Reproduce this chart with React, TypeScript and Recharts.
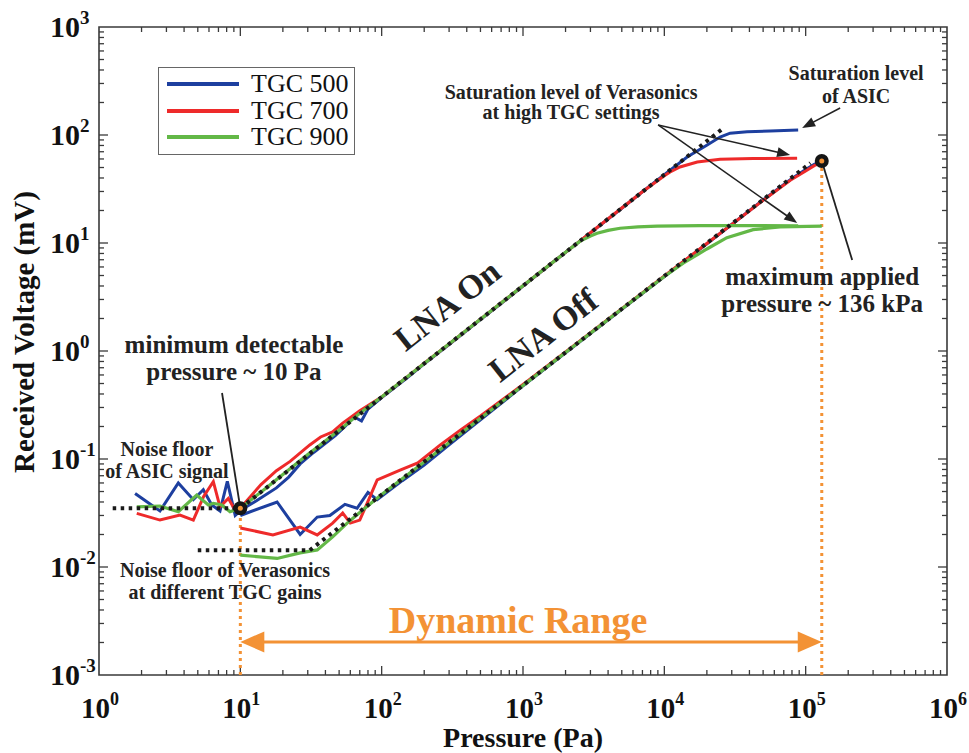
import React from 'react';
import { LineChart, Line, XAxis, YAxis, ReferenceLine, ReferenceDot, ReferenceArea, Legend } from 'recharts';

const FONT = "'Liberation Serif', 'Times New Roman', Times, serif";
const BLUE = '#1D3F9F';
const RED = '#EE2A2A';
const GREEN = '#63B847';
const ORANGE = '#F39235';
const INK = '#222222';

// axis ticks
const xTicks = [1, 10, 100, 1000, 10000, 100000, 1000000];
const yTicks = [0.001, 0.01, 0.1, 1, 10, 100, 1000];

// ---- data (pressure Pa, voltage mV) ----
// LNA On
const tgc500On: [number, number][] = [
  [1.8, 0.048], [2.7, 0.033], [3.64, 0.06], [4.65, 0.042], [5.47, 0.052], [6.28, 0.0375], [7.18, 0.033],
  [8.09, 0.062], [9.2, 0.03], [10.2, 0.034], [13, 0.041], [18, 0.054], [22, 0.068], [26.5, 0.09], [33, 0.115],
  [40, 0.14], [47, 0.165], [55, 0.2], [64, 0.245], [72, 0.225], [80, 0.29], [100, 0.37], [150, 0.56], [200, 0.76],
  [300, 1.15], [500, 1.95], [700, 2.75], [1000, 4.0], [2000, 8.2], [3000, 12.4], [5000, 21], [7000, 29.8],
  [10000, 43], [14500, 62.6], [20100, 80.8], [24800, 95.8], [29200, 104], [38500, 107], [56100, 109], [88500, 111],
];
const tgc700On: [number, number][] = [
  [1.85, 0.0314], [2.7, 0.0272], [3.74, 0.0303], [4.65, 0.0272], [5.5, 0.045], [6.44, 0.0617], [7.18, 0.0361],
  [8.22, 0.0432], [9.17, 0.0337], [10, 0.035], [14, 0.058], [18, 0.078], [22.5, 0.095], [31, 0.135], [37, 0.16],
  [45, 0.178], [53, 0.215], [70, 0.28], [90, 0.345], [100, 0.375], [150, 0.57], [200, 0.77], [300, 1.16],
  [500, 1.97], [700, 2.78], [1000, 4.02], [2000, 8.2], [3000, 12.45], [5000, 21.1], [7000, 29.8], [10000, 42],
  [11000, 45.4], [12900, 50.6], [17100, 56.2], [24800, 59.5], [42500, 60.5], [87000, 61],
];
const tgc900On: [number, number][] = [
  [1.85, 0.0361], [2.7, 0.0367], [3.64, 0.0325], [4.91, 0.0464], [5.94, 0.0375], [6.44, 0.0389], [7.39, 0.0375],
  [8.45, 0.0325], [10, 0.035], [15, 0.053], [20, 0.072], [30, 0.11], [50, 0.185], [70, 0.265], [100, 0.375],
  [200, 0.766], [500, 1.97], [1000, 4.02], [2000, 8.2], [2535, 10.4], [3000, 11.6], [3345, 12.3], [4000, 13.1],
  [4864, 13.7], [6500, 14.1], [8890, 14.3], [17900, 14.5], [40000, 14.5], [88500, 14.4],
];
// LNA Off
const tgc500Off: [number, number][] = [
  [10, 0.03], [18.2, 0.04], [26.5, 0.02], [35, 0.029], [43, 0.03], [55, 0.038], [67, 0.035], [80, 0.049],
  [93, 0.042], [140, 0.063], [200, 0.088], [300, 0.135], [500, 0.23], [1000, 0.475], [2000, 0.96], [5000, 2.43],
  [10000, 4.9], [20000, 9.85], [50000, 25], [80000, 39.5], [100000, 48], [115000, 53.5], [130000, 57.5],
];
const tgc700Off: [number, number][] = [
  [10, 0.023], [17, 0.0198], [26.5, 0.0234], [35, 0.0198], [45, 0.0255], [53, 0.0316], [60, 0.0255], [70, 0.0272],
  [79, 0.039], [93, 0.064], [135, 0.079], [180, 0.092], [260, 0.135], [360, 0.185], [500, 0.25], [1000, 0.49],
  [2000, 0.98], [5000, 2.46], [10000, 4.95], [20000, 9.9], [50000, 24.8], [80000, 39], [100000, 46.5],
  [115000, 52], [130000, 56],
];
const tgc900Off: [number, number][] = [
  [10, 0.0129], [18.2, 0.012], [26.5, 0.0135], [35, 0.0144], [45, 0.019], [57, 0.0255], [70, 0.032], [100, 0.047],
  [200, 0.094], [500, 0.238], [1000, 0.48], [2000, 0.97], [5000, 2.45], [10000, 4.9], [13600, 6.5], [20000, 8.8],
  [27700, 11.2], [42500, 13.3], [66000, 14.1], [130000, 14.3],
];
// black dotted reference lines
const asicFit: [number, number][] = [[1.25, 0.035], [10, 0.035], [26000, 115]];
const veraFit: [number, number][] = [[5, 0.0143], [31, 0.0143], [108000, 55]];

// key points
const minPoint = { x: 10, y: 0.035 };
const maxPoint = { x: 130000, y: 57.5 };

const legendItems = [
  { name: 'TGC 500', color: BLUE },
  { name: 'TGC 700', color: RED },
  { name: 'TGC 900', color: GREEN },
];

const P = (e: number) => Math.pow(10, e);

// annotation anchors (log10 of data coords)
const notes = [
  { t: 'Saturation level of Verasonics', lx: 3.34, ly: 2.333, size: 20 },
  { t: 'at high TGC settings', lx: 3.34, ly: 2.148, size: 20 },
  { t: 'Saturation level', lx: 5.357, ly: 2.509, size: 20 },
  { t: 'of ASIC', lx: 5.357, ly: 2.296, size: 20 },
  { t: 'minimum detectable', lx: 0.955, ly: -0.019, size: 25 },
  { t: 'pressure ~ 10 Pa', lx: 0.955, ly: -0.269, size: 25 },
  { t: 'maximum applied', lx: 5.117, ly: 0.611, size: 25 },
  { t: 'pressure ~ 136 kPa', lx: 5.117, ly: 0.361, size: 25 },
  { t: 'Noise floor', lx: 0.481, ly: -0.972, size: 20 },
  { t: 'of ASIC signal', lx: 0.481, ly: -1.176, size: 20 },
  { t: 'Noise floor of Verasonics', lx: 0.892, ly: -2.093, size: 20 },
  { t: 'at different TGC gains', lx: 0.892, ly: -2.296, size: 20 },
  { t: 'Dynamic Range', lx: 2.965, ly: -2.611, size: 38, color: ORANGE },
  { t: 'LNA On', lx: 2.463, ly: 0.426, size: 34, angle: -38 },
  { t: 'LNA Off', lx: 3.142, ly: 0.148, size: 34, angle: -38 },
];

const pts = (a: [number, number][]) => a.map(([x, y]) => ({ x, y }));

const xMinor: number[] = [];
for (let e = 0; e < 6; e++) for (let m = 2; m <= 9; m++) xMinor.push(m * Math.pow(10, e));
const yMinor: number[] = [];
for (let e = -3; e < 3; e++) for (let m = 2; m <= 9; m++) yMinor.push(m * Math.pow(10, e));
const xMajorInner = [10, 100, 1000, 10000, 100000];
const yMajorInner = [0.01, 0.1, 1, 10, 100];

const TICK = '#3a3a3a';

const xTickShape = (len: number) => (p: any) => {
  const top = Math.min(p.y1, p.y2);
  const bot = Math.max(p.y1, p.y2);
  return (
    <g>
      <line x1={p.x1} x2={p.x1} y1={bot} y2={bot - len} stroke={TICK} strokeWidth={1.3} />
      <line x1={p.x1} x2={p.x1} y1={top} y2={top + len} stroke={TICK} strokeWidth={1.3} />
    </g>
  );
};
const yTickShape = (len: number) => (p: any) => {
  const l = Math.min(p.x1, p.x2);
  const r = Math.max(p.x1, p.x2);
  return (
    <g>
      <line x1={l} x2={l + len} y1={p.y1} y2={p.y1} stroke={TICK} strokeWidth={1.3} />
      <line x1={r} x2={r - len} y1={p.y1} y2={p.y1} stroke={TICK} strokeWidth={1.3} />
    </g>
  );
};

const arrowShape = (color: string, w: number, len: number, half: number, heads: 'end' | 'both' | 'none') => (p: any) => {
  const { x1, y1, x2, y2 } = p;
  const dx = x2 - x1;
  const dy = y2 - y1;
  const L = Math.hypot(dx, dy) || 1;
  const ux = dx / L;
  const uy = dy / L;
  const head = (tx: number, ty: number, sx: number, sy: number) => {
    const bx = tx - sx * len;
    const by = ty - sy * len;
    return `${tx},${ty} ${bx - sy * half},${by + sx * half} ${bx + sy * half},${by - sx * half}`;
  };
  const sx0 = heads === 'both' ? x1 + ux * len * 0.8 : x1;
  const sy0 = heads === 'both' ? y1 + uy * len * 0.8 : y1;
  const ex0 = heads !== 'none' ? x2 - ux * len * 0.8 : x2;
  const ey0 = heads !== 'none' ? y2 - uy * len * 0.8 : y2;
  return (
    <g>
      <line x1={sx0} y1={sy0} x2={ex0} y2={ey0} stroke={color} strokeWidth={w} />
      {heads !== 'none' && <polygon points={head(x2, y2, ux, uy)} fill={color} />}
      {heads === 'both' && <polygon points={head(x1, y1, -ux, -uy)} fill={color} />}
    </g>
  );
};

const textShape = (n: any) => (p: any) => (
  <text
    x={p.cx}
    y={p.cy}
    textAnchor="middle"
    dominantBaseline={n.angle ? 'central' : undefined}
    transform={n.angle ? `rotate(${n.angle}, ${p.cx}, ${p.cy})` : undefined}
    fontFamily={FONT}
    fontWeight="bold"
    fontSize={n.size}
    fill={n.color || INK}
  >
    {n.t}
  </text>
);

const bigDot = (p: any) => (
  <g>
    <circle cx={p.cx} cy={p.cy} r={7} fill="#151515" />
    <circle cx={p.cx} cy={p.cy} r={2.5} fill={ORANGE} />
  </g>
);

const XTick = (props: any) => {
  const { x, y, payload } = props;
  const e = Math.round(Math.log10(payload.value));
  return (
    <text x={x - 18} y={y + 43} fontFamily={FONT} fontWeight="bold" fontSize={29} fill="#111">
      10<tspan dy={-13} fontSize={18}>{e}</tspan>
    </text>
  );
};
const YTick = (props: any) => {
  const { x, y, payload } = props;
  const e = Math.round(Math.log10(payload.value));
  return (
    <text x={x - 49} y={y + 10} fontFamily={FONT} fontWeight="bold" fontSize={30} fill="#111">
      10<tspan dy={-13} fontSize={19}>{e}</tspan>
    </text>
  );
};

const YTitle = (props: any) => {
  const vb = props.viewBox || { x: 0, y: 27, width: 99, height: 648 };
  const cx = vb.x + 24;
  const cy = vb.y + vb.height / 2 - 19;
  return (
    <text
      x={cx}
      y={cy}
      transform={`rotate(-90, ${cx}, ${cy})`}
      textAnchor="middle"
      dominantBaseline="central"
      fontFamily={FONT}
      fontWeight="bold"
      fontSize={29}
      fill="#111"
    >
      Received Voltage (mV)
    </text>
  );
};

const LegendBox = () => (
  <div
    style={{
      border: '1.5px solid #666',
      background: '#fff',
      padding: '3px 0',
      width: 197,
      boxSizing: 'border-box',
      fontFamily: FONT,
    }}
  >
    {legendItems.map((it) => (
      <div key={it.name} style={{ display: 'flex', alignItems: 'center', height: 26.5 }}>
        <svg width={92} height={10} style={{ display: 'block' }}>
          <line x1={8} x2={80} y1={5} y2={5} stroke={it.color} strokeWidth={4} />
        </svg>
        <span style={{ fontSize: 26, color: '#111', lineHeight: '26px' }}>{it.name}</span>
      </div>
    ))}
  </div>
);

const lineProps = { type: 'linear' as const, dataKey: 'y', dot: false, activeDot: false, isAnimationActive: false, legendType: 'none' as const };

export default function App() {
  return (
    <div style={{ position: 'absolute', left: 0, top: 0, width: 969, height: 753, background: '#fff' }}>
      <LineChart width={969} height={753} margin={{ top: 27, right: 22, bottom: 0, left: 0 }}>
        <XAxis
          dataKey="x"
          type="number"
          scale="log"
          domain={[1, 1000000]}
          allowDataOverflow
          ticks={xTicks}
          interval={0}
          height={78}
          tickSize={0}
          tickMargin={0}
          axisLine={false}
          tickLine={false}
          tick={XTick}
          label={{
            value: 'Pressure (Pa)',
            position: 'insideBottom',
            offset: 6,
            fill: '#111',
            fontSize: 28,
            fontWeight: 'bold',
            fontFamily: FONT,
          }}
        />
        <YAxis
          type="number"
          scale="log"
          domain={[0.001, 1000]}
          allowDataOverflow
          ticks={yTicks}
          interval={0}
          width={99}
          tickSize={0}
          tickMargin={0}
          axisLine={false}
          tickLine={false}
          tick={YTick}
          label={{ content: YTitle }}
        />
        <Legend
          content={LegendBox}
          layout="vertical"
          align="center"
          verticalAlign="middle"
          wrapperStyle={{ left: 158, top: 67, width: 197 }}
        />

        {xMinor.map((v) => (
          <ReferenceLine key={'xm' + v} x={v} shape={xTickShape(5)} ifOverflow="visible" />
        ))}
        {xMajorInner.map((v) => (
          <ReferenceLine key={'xM' + v} x={v} shape={xTickShape(9)} ifOverflow="visible" />
        ))}
        {yMinor.map((v) => (
          <ReferenceLine key={'ym' + v} y={v} shape={yTickShape(5)} ifOverflow="visible" />
        ))}
        {yMajorInner.map((v) => (
          <ReferenceLine key={'yM' + v} y={v} shape={yTickShape(9)} ifOverflow="visible" />
        ))}
        <ReferenceArea x1={1} x2={1000000} y1={0.001} y2={1000} fill="none" stroke="#3a3a3a" strokeWidth={1.6} ifOverflow="visible" />

        {/* orange dotted verticals */}
        <ReferenceLine
          segment={[{ x: minPoint.x, y: 0.001 }, minPoint]}
          stroke={ORANGE}
          strokeWidth={3}
          strokeDasharray="3 4"
          ifOverflow="visible"
        />
        <ReferenceLine
          segment={[{ x: maxPoint.x, y: 0.001 }, maxPoint]}
          stroke={ORANGE}
          strokeWidth={3}
          strokeDasharray="3 4"
          ifOverflow="visible"
        />

        <Line {...lineProps} data={pts(tgc500On)} stroke={BLUE} strokeWidth={3} name="TGC 500" />
        <Line {...lineProps} data={pts(tgc500Off)} stroke={BLUE} strokeWidth={3} />
        <Line {...lineProps} data={pts(tgc700On)} stroke={RED} strokeWidth={3} name="TGC 700" />
        <Line {...lineProps} data={pts(tgc700Off)} stroke={RED} strokeWidth={3} />
        <Line {...lineProps} data={pts(tgc900On)} stroke={GREEN} strokeWidth={3.2} name="TGC 900" />
        <Line {...lineProps} data={pts(tgc900Off)} stroke={GREEN} strokeWidth={3.2} />
        <Line {...lineProps} data={pts(asicFit)} stroke="#1a1a1a" strokeWidth={4} strokeDasharray="3.5 4.5" />
        <Line {...lineProps} data={pts(veraFit)} stroke="#1a1a1a" strokeWidth={4} strokeDasharray="3.5 4.5" />

        {/* dynamic range arrow */}
        <ReferenceLine
          segment={[{ x: minPoint.x, y: P(-2.694) }, { x: maxPoint.x, y: P(-2.694) }]}
          shape={arrowShape(ORANGE, 3, 24, 10.5, 'both')}
          ifOverflow="visible"
        />

        {/* annotation arrows */}
        <ReferenceLine
          segment={[{ x: P(3.956), y: P(2.093) }, { x: P(4.89), y: P(1.815) }]}
          shape={arrowShape(INK, 1.6, 13, 5, 'end')}
          ifOverflow="visible"
        />
        <ReferenceLine
          segment={[{ x: P(3.956), y: P(2.093) }, { x: P(4.94), y: P(1.185) }]}
          shape={arrowShape(INK, 1.6, 13, 5, 'end')}
          ifOverflow="visible"
        />
        <ReferenceLine
          segment={[{ x: P(5.244), y: P(2.25) }, { x: P(4.975), y: P(2.065) }]}
          shape={arrowShape(INK, 1.6, 13, 5, 'end')}
          ifOverflow="visible"
        />
        <ReferenceLine
          segment={[{ x: P(0.8705), y: P(-0.389) }, minPoint]}
          shape={arrowShape(INK, 1.8, 0, 0, 'none')}
          ifOverflow="visible"
        />
        <ReferenceLine
          segment={[maxPoint, { x: P(5.329), y: P(0.843) }]}
          shape={arrowShape(INK, 1.8, 0, 0, 'none')}
          ifOverflow="visible"
        />

        <ReferenceDot x={minPoint.x} y={minPoint.y} r={7} shape={bigDot} ifOverflow="visible" />
        <ReferenceDot x={maxPoint.x} y={maxPoint.y} r={7} shape={bigDot} ifOverflow="visible" />

        {notes.map((n) => (
          <ReferenceDot key={n.t} x={P(n.lx)} y={P(n.ly)} r={0} shape={textShape(n)} ifOverflow="visible" />
        ))}
      </LineChart>
    </div>
  );
}
